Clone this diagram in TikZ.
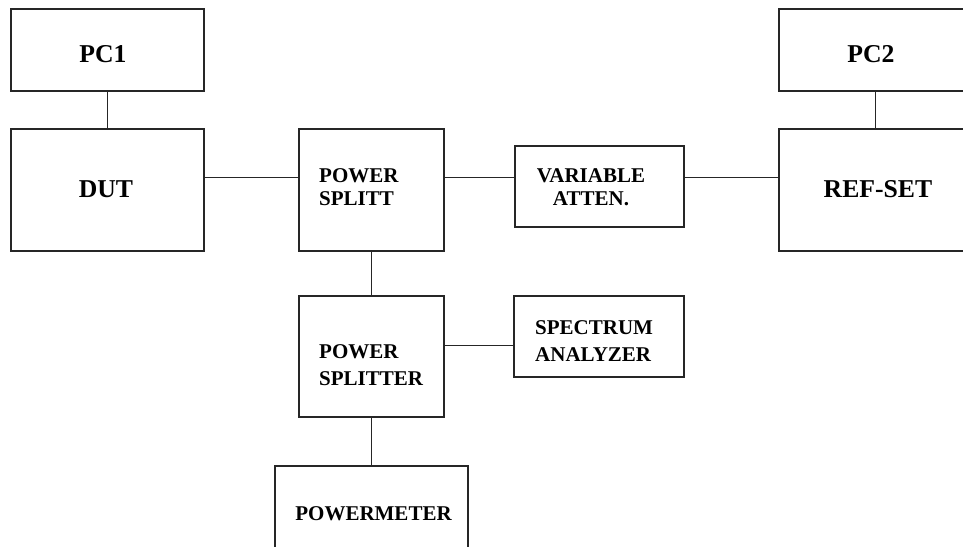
\documentclass[tikz,border=0pt]{standalone}
\usepackage{fontspec}
\setmainfont{Liberation Serif}
\usetikzlibrary{fit}
\begin{document}
\begin{tikzpicture}[x=1pt,y=-1pt,
  box/.style={draw=black!85, line width=1.3pt, inner sep=0pt},
  wire/.style={draw=black!85, line width=1pt},
  big/.style={font=\bfseries\fontsize{25.7}{30}\selectfont, inner sep=0pt, text=black},
  small/.style={font=\bfseries\fontsize{21}{25}\selectfont, inner sep=0pt, text=black}]
\useasboundingbox (0,0) rectangle (963,546);
\clip (0,0) rectangle (963,546);
% boxes
\node[box, fit={(11,9) (204,91)}] (pc1) {};
\node[box, fit={(11,129) (204,251)}] (dut) {};
\node[box, fit={(299,129) (444,251)}] (ps1) {};
\node[box, fit={(515,146) (684,227)}] (va) {};
\node[box, fit={(779,9) (975,91)}] (pc2) {};
\node[box, fit={(779,129) (975,251)}] (ref) {};
\node[box, fit={(299,296) (444,417)}] (ps2) {};
\node[box, fit={(514,296) (684,377)}] (sa) {};
\node[box, fit={(275,466) (468,570)}] (pm) {};
% texts
\node[big, anchor=base] (pc1t) at (103,62) {PC1};
\node[big, anchor=base] (dutt) at (106,197) {DUT};
\node[big, anchor=base] (pc2t) at (871,62) {PC2};
\node[big, anchor=base] (reft) at (878,197) {REF-SET};
\node[small, anchor=base west] (ps1a) at (319,182) {POWER};
\node[small, anchor=base west] (ps1b) at (319,205) {SPLITT};
\node[small, anchor=base] (vaa) at (591,182) {VARIABLE};
\node[small, anchor=base] (vab) at (591,205) {ATTEN.};
\node[small, anchor=base west] (ps2a) at (319,358) {POWER};
\node[small, anchor=base west] (ps2b) at (319,385) {SPLITTER};
\node[small, anchor=base west] (saa) at (535,334) {SPECTRUM};
\node[small, anchor=base west] (sab) at (535,361) {ANALYZER};
\node[small, anchor=base] (pmt) at (373.5,520) {POWERMETER};
% helper coordinates
\coordinate (ya) at (0,177);
\coordinate (yb) at (0,345);
\coordinate (xa) at (107,0);
\coordinate (xb) at (875,0);
\coordinate (xc) at (371,0);
% connectors
\draw[wire] (pc1.south -| xa) -- (dut.north -| xa);
\draw[wire] (pc2.south -| xb) -- (ref.north -| xb);
\draw[wire] (dut.east |- ya) -- (ps1.west |- ya);
\draw[wire] (ps1.east |- ya) -- (va.west |- ya);
\draw[wire] (va.east |- ya) -- (ref.west |- ya);
\draw[wire] (ps1.south -| xc) -- (ps2.north -| xc);
\draw[wire] (ps2.east |- yb) -- (sa.west |- yb);
\draw[wire] (ps2.south -| xc) -- (pm.north -| xc);
\end{tikzpicture}
\end{document}
